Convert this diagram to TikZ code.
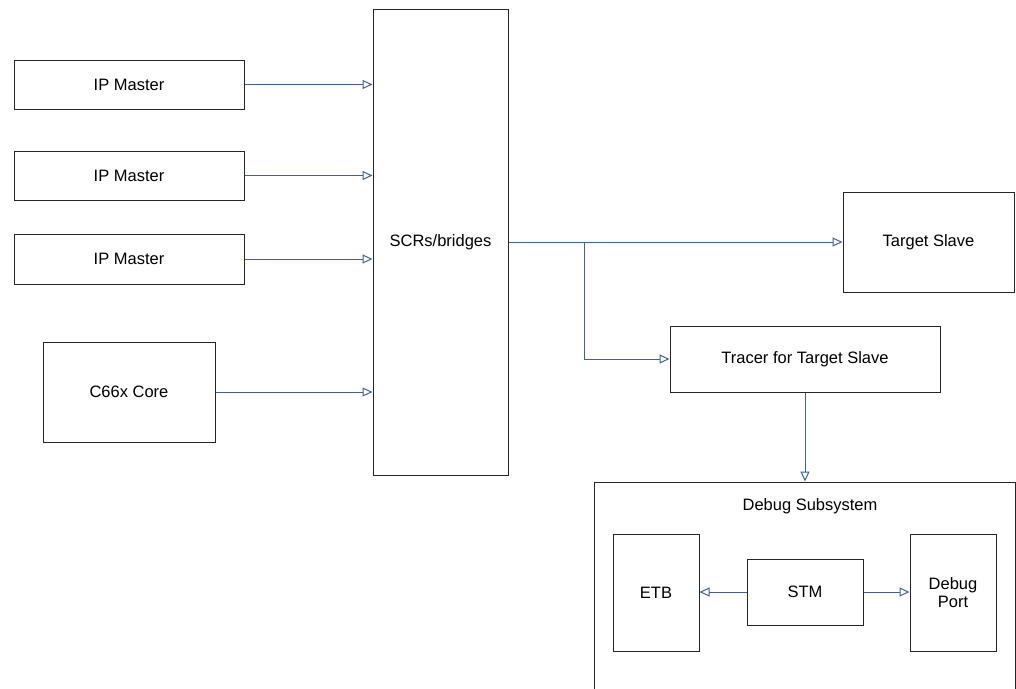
\documentclass[tikz,border=0pt]{standalone}
\usepackage{fontspec}
\setmainfont{Liberation Sans}
\usetikzlibrary{arrows.meta}
\definecolor{linkblue}{RGB}{62,96,158}

\begin{document}
\begin{tikzpicture}[x=1pt,y=-1pt,
	blk/.style={draw=black!85, line width=1pt, inner sep=0pt, align=center, font=\fontsize{16.5}{18}\selectfont},
	lbl/.style={inner sep=0pt, font=\fontsize{16.5}{18}\selectfont},
	link/.style={draw=linkblue, line width=1pt, -{Triangle[open, length=10pt, width=9pt]}}]
	\useasboundingbox (0,0) rectangle (1016,688);
	\clip (0,0) rectangle (1016,688);
	
	% masters
	\node[blk, minimum width=230, minimum height=49] (ip1) at (129,84.5) {IP Master};
	\node[blk, minimum width=230, minimum height=49] (ip2) at (129,175.5) {IP Master};
	\node[blk, minimum width=230, minimum height=50] (ip3) at (129,259) {IP Master};
	\node[blk, minimum width=172, minimum height=100] (core) at (129,392) {C66x Core};
	
	% interconnect
	\node[blk, minimum width=135, minimum height=466] (scr) at (440.5,242) {SCRs/bridges};
	
	% slave side
	\node[blk, minimum width=171, minimum height=100] (slave) at (928.5,242) {Target Slave};
	\node[blk, minimum width=270, minimum height=66] (tracer) at (805,359) {Tracer for Target Slave};
	
	% debug subsystem (runs off the bottom)
	\node[blk, minimum width=421, minimum height=240] (dbg) at (804.5,602) {};
	\node[lbl] (dbgtitle) at (810,506) {Debug Subsystem};
	\node[blk, minimum width=86, minimum height=117] (etb) at (656,592.5) {ETB};
	\node[blk, minimum width=116, minimum height=66] (stm) at (805,592) {STM};
	\node[blk, minimum width=86, minimum height=117] (dport) at (953,592.5) {Debug\\Port};
	
	\draw[link] (ip1.east) -- (scr.west |- ip1.east);
	\draw[link] (ip2.east) -- (scr.west |- ip2.east);
	\draw[link] (ip3.east) -- (scr.west |- ip3.east);
	\draw[link] (core.east) -- (scr.west |- core.east);
	
	\coordinate (split) at (584,242);
	\draw[link] (scr.east) -- (slave.west);
	\draw[link] (split) |- (tracer.west);
	\draw[link] (tracer.south) -- (tracer.south |- dbg.north);
	
	\draw[link] (stm.west) -- (etb.east |- stm.west);
	\draw[link] (stm.east) -- (dport.west |- stm.east);
\end{tikzpicture}
\end{document}
